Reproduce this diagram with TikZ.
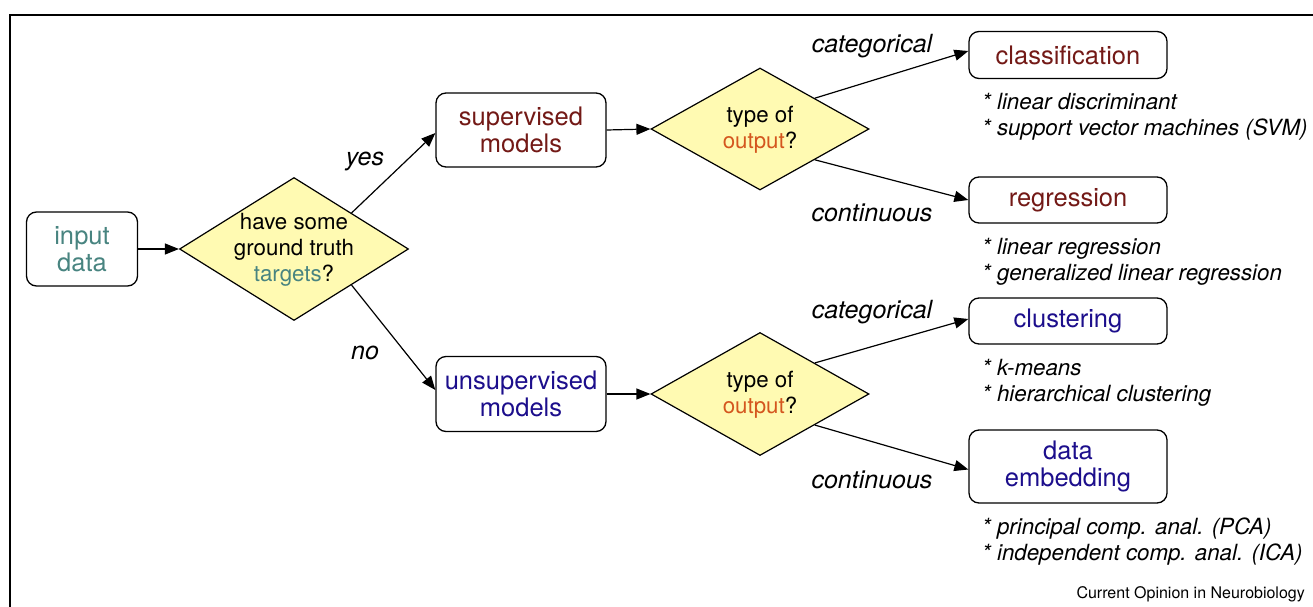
\documentclass[tikz,border=0pt]{standalone}
\usepackage{fontspec}
\setmainfont{TeX Gyre Heros}
\usetikzlibrary{shapes.geometric,arrows.meta}
\definecolor{tealc}{RGB}{72,132,128}
\definecolor{redc}{RGB}{115,25,22}
\definecolor{bluec}{RGB}{28,14,140}
\definecolor{orangec}{RGB}{212,86,30}
\definecolor{yellowc}{RGB}{255,250,178}
\begin{document}
\begin{tikzpicture}[x=1pt,y=-1pt,
  box/.style={draw, line width=1.3pt, rounded corners=10pt, inner sep=0pt, align=center,
    font=\fontsize{25.5}{27}\selectfont},
  dia/.style={draw, diamond, fill=yellowc, line width=1.2pt, inner sep=0pt},
  dtext/.style={align=center, inner sep=0pt, font=\fontsize{22.3}{26}\selectfont},
  arr/.style={-{Triangle[length=14pt,width=11pt]}, line width=1.2pt},
  elab/.style={inner sep=0pt, font=\fontsize{25}{26}\selectfont\itshape},
  lst/.style={anchor=west, align=left, inner sep=0pt, font=\fontsize{22.3}{26}\selectfont\itshape}]
\useasboundingbox (0,0) rectangle (1313,607);
\fill[white] (0,0) rectangle (1313,607);
% frame
\draw[line width=1.5pt] (10,607) -- (10,15) -- (1313,15);

% nodes
\node[box, minimum width=111, minimum height=74, text=tealc] (in) at (82,249) {input\\data};
\node[dia, minimum width=229, minimum height=143] (d1) at (294,249) {};
\node[dtext] (d1t) at (294,250) {have some\\ground truth\\{\color{tealc}targets}?};

\node[box, minimum width=170, minimum height=74, text=redc] (sup) at (521,130) {supervised\\models};
\node[box, minimum width=170, minimum height=75, text=bluec] (uns) at (521,394) {unsupervised\\models};

\node[dia, minimum width=218, minimum height=122] (d2) at (760,129) {};
\node[dtext] (d2t) at (760,130) {type of\\{\color{orangec}output}?};
\node[dia, minimum width=218, minimum height=123] (d3) at (760,394) {};
\node[dtext] (d3t) at (760,395) {type of\\{\color{orangec}output}?};

\node[box, minimum width=198, minimum height=47, text=redc] (cls) at (1068,55) {classification};
\node[box, minimum width=198, minimum height=46, text=redc] (reg) at (1068,200) {regression};
\node[box, minimum width=198, minimum height=46, text=bluec] (clu) at (1068,321) {clustering};
\node[box, minimum width=198, minimum height=73, text=bluec] (emb) at (1068,466.5) {data\\embedding};

% connectors
\draw[arr] (in.east) -- (d1.west);
\draw[arr] (d1.north east) -- ([yshift=-3pt]sup.west);
\draw[arr] (d1.south east) -- ([yshift=4pt]uns.west);
\draw[arr] (sup.east) -- (d2.west);
\draw[arr] (uns.east) -- (d3.west);
\draw[arr] (d2.north east) -- ([yshift=4pt]cls.west);
\draw[arr] (d2.south east) -- (reg.west);
\draw[arr] (d3.north east) -- ([yshift=2pt]clu.west);
\draw[arr] (d3.south east) -- ([yshift=-3pt]emb.west);

% edge labels
\node[elab] (lyes) at (365,161) {yes};
\node[elab] (lno) at (365,353) {no};
\node[elab] (lc1) at (872,46) {categorical};
\node[elab] (lk1) at (872,213) {continuous};
\node[elab] (lc2) at (872,312) {categorical};
\node[elab] (lk2) at (872,480) {continuous};

% method lists
\node[lst] (l1) at (982,117) {* linear discriminant\\* support vector machines (SVM)};
\node[lst] (l2) at (982,262) {* linear regression\\* generalized linear regression};
\node[lst] (l3) at (982,383) {* k-means\\* hierarchical clustering};
\node[lst] (l4) at (982,542) {* principal comp. anal. (PCA)\\* independent comp. anal. (ICA)};

\node[anchor=east, inner sep=0pt, font=\fontsize{16}{18}\selectfont] (src) at (1305,594) {Current Opinion in Neurobiology};
\end{tikzpicture}
\end{document}
